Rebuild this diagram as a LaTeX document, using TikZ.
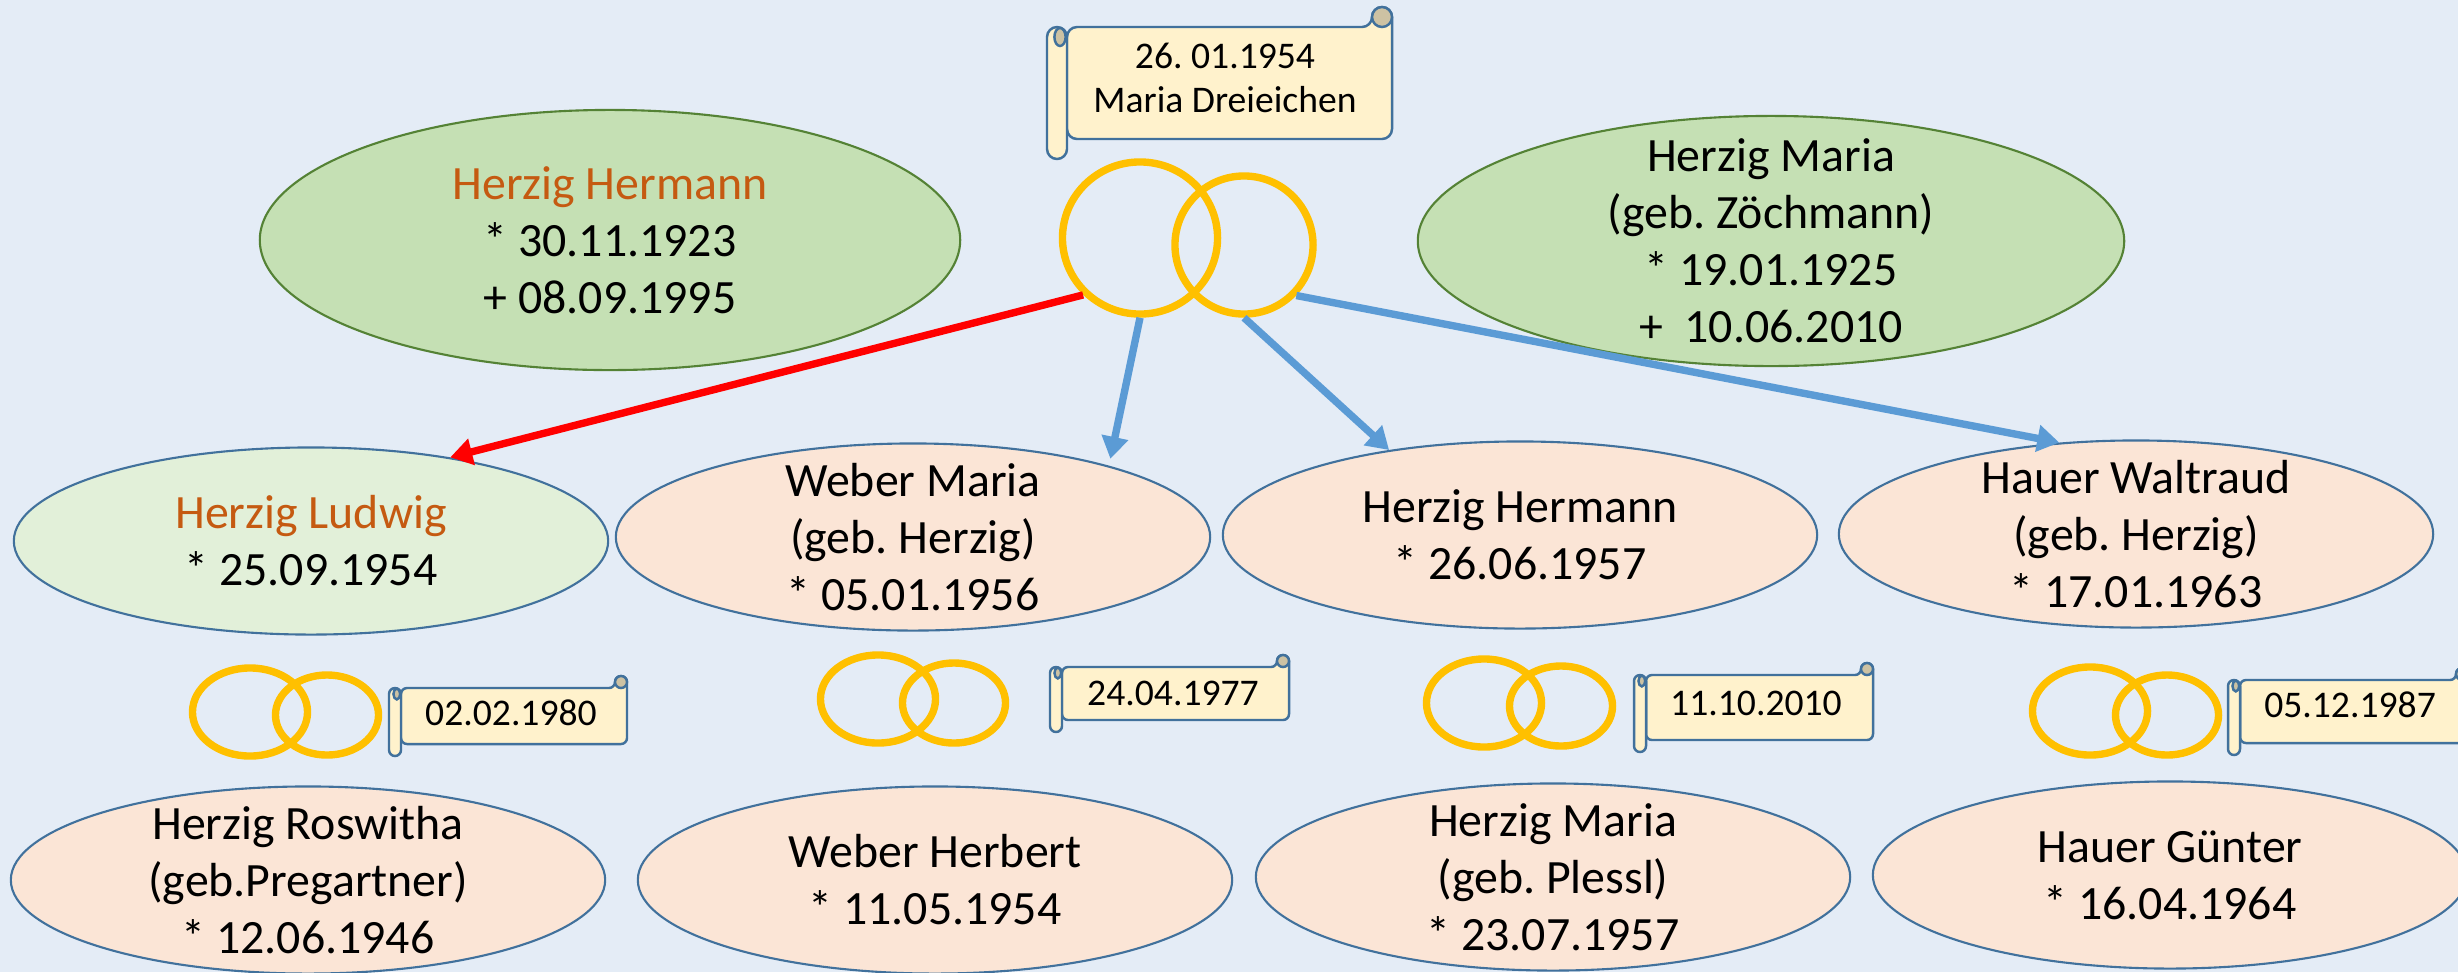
\documentclass[tikz,border=0pt]{standalone}
\usepackage{fontspec}
\setmainfont{Carlito}
\frenchspacing
\usetikzlibrary{shapes.geometric,arrows.meta}

\definecolor{bgblue}{HTML}{E4ECF6}
\definecolor{ringgold}{HTML}{FFC000}
\definecolor{arrowblue}{HTML}{5B9BD5}
\definecolor{linkblue}{HTML}{41719C}
\definecolor{parentgreen}{HTML}{C5E0B4}
\definecolor{parentline}{HTML}{548235}
\definecolor{palegreen}{HTML}{E2F0D9}
\definecolor{peach}{HTML}{FBE5D6}
\definecolor{scrollfill}{HTML}{FFF2CC}
\definecolor{curlfill}{HTML}{CDC2A3}
\definecolor{nameorange}{HTML}{C55A11}

\tikzset{
  person/.style={draw=linkblue, line width=0.6pt, shape=ellipse, inner sep=-0.8cm, align=center,
    minimum width=5.94cm, minimum height=1.87cm, font=\fontsize{13.6}{16.2}\selectfont,
    execute at begin node=\vspace*{0.2cm}},
  parent/.style={person, draw=parentline, fill=parentgreen, minimum width=7cm, minimum height=2.6cm},
  child/.style={person, fill=peach},
  ring/.style={draw=ringgold, line width=2.1pt, shape=ellipse, inner sep=0pt},
  link/.style={line width=2.1pt, arrowblue, -{Triangle[length=0.22cm, width=0.26cm]}},
  scrollline/.style={draw=linkblue, line width=0.7pt, fill=scrollfill},
  scrolltext/.style={inner sep=0pt, align=center, font=\fontsize{10.7}{12.6}\selectfont}
}

% name, left, top, right, bottom, roll, text x, text y, text
\newcommand{\scrollbox}[9]{
  \draw[scrollline, rounded corners=#6*0.005cm] (#2+#6,#3+#6) -- (#4-#6,#3+#6) -- (#4-#6,#3) -- (#4,#3) -- (#4,#5-#6) -- (#2+#6,#5-#6) -- cycle;
  \draw[scrollline, rounded corners=#6*0.005cm] (#2,#3+#6) rectangle (#2+#6,#5);
  \draw[scrollline, fill=curlfill] (#4-#6*0.5,#3+#6*0.5) ellipse [x radius=#6*0.5, y radius=#6*0.5];
  \draw[scrollline, fill=curlfill] (#2+#6*0.65,#3+#6*1.5) ellipse [x radius=#6*0.28, y radius=#6*0.45];
  \node[scrolltext] (#1) at (#7,#8) {#9};
}

\begin{document}
\begin{tikzpicture}[x=0.01cm, y=-0.01cm]
\clip (0,0) rectangle (2458,972);
\fill[bgblue] (0,0) rectangle (2458,972);

% parents
\node[parent] (hermannsen) at (610,240) {\textcolor{nameorange}{Herzig Hermann}\\* 30.11.1923\\+ 08.09.1995};
\node[parent, minimum width=7.06cm, minimum height=2.5cm, execute at begin node={}] (mariasen) at (1771,241) {Herzig Maria\\(geb. Zöchmann)\\* 19.01.1925\\+~~10.06.2010};

\node[ring, minimum width=1.55cm, minimum height=1.52cm] (ringa) at (1140,238) {};
\node[ring, minimum width=1.38cm, minimum height=1.38cm] (ringb) at (1244,245) {};
\scrollbox{datemain}{1047}{7}{1392}{159}{20}{1225}{78}{26. 01.1954\\Maria Dreieichen}

% children
\node[person, fill=palegreen] (ludwig) at (311,541) {\textcolor{nameorange}{Herzig Ludwig}\\* 25.09.1954};
\node[child] (weber) at (913,537) {Weber Maria\\(geb. Herzig)\\* 05.01.1956};
\node[child] (hermann) at (1520,535) {Herzig Hermann\\* 26.06.1957};
\node[child] (waltraud) at (2136,534) {Hauer Waltraud\\(geb. Herzig)\\* 17.01.1963};

% partners
\node[child] (roswitha) at (308,880) {Herzig Roswitha\\(geb.Pregartner)\\* 12.06.1946};
\node[child] (herbert) at (935,880) {Weber Herbert\\* 11.05.1954};
\node[child] (maria) at (1553,877) {Herzig Maria\\(geb. Plessl)\\* 23.07.1957};
\node[child] (guenter) at (2170,875) {Hauer Günter\\* 16.04.1964};

% small rings
\node[ring, minimum width=1.15cm, minimum height=0.88cm] (ringc) at (250,712) {};
\node[ring, minimum width=1.03cm, minimum height=0.8cm] (ringd) at (327,715) {};
\node[ring, minimum width=1.15cm, minimum height=0.88cm] (ringe) at (878,699) {};
\node[ring, minimum width=1.03cm, minimum height=0.8cm] (ringf) at (954,703) {};
\node[ring, minimum width=1.15cm, minimum height=0.88cm] (ringg) at (1484,703) {};
\node[ring, minimum width=1.03cm, minimum height=0.8cm] (ringh) at (1561,706) {};
\node[ring, minimum width=1.15cm, minimum height=0.88cm] (ringi) at (2090,711) {};
\node[ring, minimum width=1.03cm, minimum height=0.8cm] (ringj) at (2167,715) {};

\scrollbox{datea}{389}{676}{627}{756}{12}{511}{713}{02.02.1980}
\scrollbox{dateb}{1050}{655}{1289}{732}{12}{1173}{693}{24.04.1977}
\scrollbox{datec}{1634}{663}{1873}{752}{12}{1756}{703}{11.10.2010}
\scrollbox{dated}{2228}{668}{2468}{755}{12}{2350}{705}{05.12.1987}

% descent
\draw[link, red] (ringa.225) -- (ludwig.31);
\draw[link, shorten >=2pt] (ringa.270) -- (weber.20);
\draw[link] (ringb.270) -- (hermann.147);
\draw[link] (ringb.316) -- (waltraud.130);
\end{tikzpicture}
\end{document}
